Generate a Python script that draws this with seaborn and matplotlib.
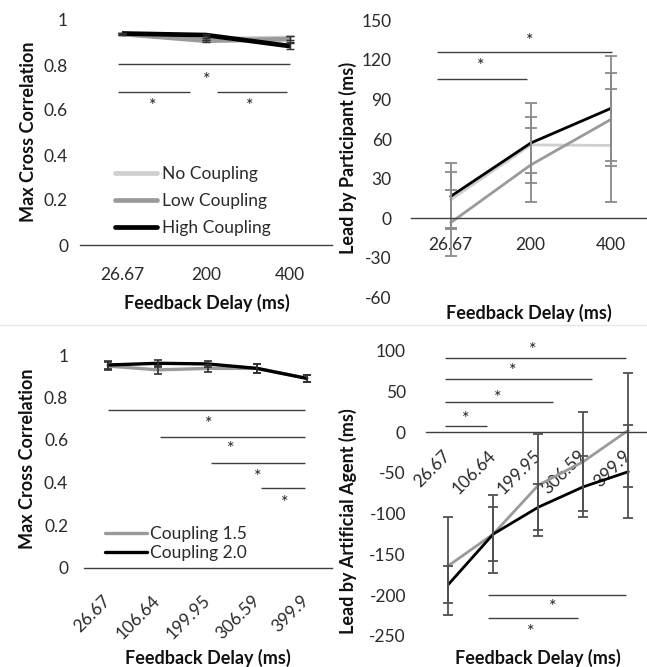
import numpy as np
import pandas as pd
import matplotlib
matplotlib.use("Agg")
import matplotlib.pyplot as plt
import seaborn as sns
from matplotlib.lines import Line2D

# ---------------- data ----------------
delays_top = ["26.67", "200", "400"]
delays_bottom = ["26.67", "106.64", "199.95", "306.59", "399.9"]

top_conditions = ["No Coupling", "Low Coupling", "High Coupling"]
corr_no = [0.938, 0.915, 0.920]
corr_low = [0.938, 0.908, 0.915]
corr_high = [0.940, 0.933, 0.884]
corr_no_err = [0.004, 0.005, 0.010]
corr_low_err = [0.004, 0.005, 0.012]
corr_high_err = [0.004, 0.005, 0.012]

lead_no = [14.0, 55.6, 55.2]
lead_low = [-3.3, 40.4, 74.8]
lead_high = [16.6, 57.0, 83.2]
lead_no_err = [21, 21, 43]
lead_low_err = [25, 27.8, 35.2]
lead_high_err = [25, 30, 39.5]

bottom_conditions = ["Coupling 1.5", "Coupling 2.0"]
corr15 = [0.948, 0.930, 0.937, 0.937, 0.890]
corr20 = [0.953, 0.961, 0.958, 0.937, 0.890]
corr15_err = [0.02, 0.02, 0.015, 0.02, 0.018]
corr20_err = [0.02, 0.017, 0.015, 0.02, 0.018]

agent15 = [-164, -125, -65, -36, 2.5]
agent20 = [-187, -125, -92, -67, -48.4]
agent15_err = [60, 48, 63, 61, 70]
agent20_err = [23, 33, 28.6, 37.6, 57.4]

# significance brackets (category positions) and star positions
tl_sig_x0 = [-0.05, -0.05, 1.13]
tl_sig_x1 = [2.0, 0.81, 1.97]
tl_sig_y = [0.803, 0.679, 0.679]
tl_star_x = [1.01, 0.36, 1.52]
tl_star_y = [0.756, 0.637, 0.637]

tr_sig_x0 = [-0.17, -0.17]
tr_sig_x1 = [2.02, 0.95]
tr_sig_y = [125.8, 105.5]
tr_star_x = [0.99, 0.37]
tr_star_y = [137.6, 118.6]

bl_sig_x0 = [0.0, 1.04, 2.07, 3.08]
bl_sig_x1 = [3.97, 3.97, 3.97, 3.97]
bl_sig_y = [0.741, 0.614, 0.492, 0.374]
bl_star_x = [2.03, 2.47, 3.02, 3.56]
bl_star_y = [0.697, 0.58, 0.446, 0.326]

br_sig_x0 = [-0.07, -0.07, -0.07, -0.07, 0.88, 0.88]
br_sig_x1 = [3.95, 3.19, 2.33, 0.86, 3.95, 2.88]
br_sig_y = [91.3, 65.5, 37.2, 7.7, -199.8, -228]
br_star_x = [1.88, 1.44, 1.10, 0.39, 2.33, 1.84]
br_star_y = [107, 81.5, 48.3, 22.5, -208.5, -239]

# ---------------- style ----------------
sns.set_style("white")
plt.rcParams["font.family"] = ["Lato", "DejaVu Sans"]

LIGHT = "#cfcfcf"
MID = "#9a9a9a"
BLACK = "#000000"
AXC = "#404040"
TICKC = "#2a2a2a"

W, H = 647, 667


def rect(x0, x1, yt, yb):
    return [x0 / W, 1 - yb / H, (x1 - x0) / W, (yb - yt) / H]


fig = plt.figure(figsize=(W / 100, H / 100), dpi=100)
ax_tl = fig.add_axes(rect(80, 332, 20, 245))
ax_tr = fig.add_axes(rect(410.7, 650.7, 20.3, 297.5))
ax_bl = fig.add_axes(rect(83.5, 331.5, 355, 567.5))
ax_br = fig.add_axes(rect(425.8, 650.8, 350.9, 635.8))


def long_df(labels, series, conds):
    rows = []
    for c, vals in zip(conds, series):
        for i, v in enumerate(vals):
            rows.append({"pos": i, "value": v, "cond": c})
    return pd.DataFrame(rows)


def style(ax, n, ylim, yticks, xlabels, xpad, ypad, zero_axis):
    ax.set_facecolor("none")
    ax.set_xlim(-0.5, n - 0.5)
    ax.set_ylim(*ylim)
    for s in ["top", "right", "left"]:
        ax.spines[s].set_visible(False)
    ax.spines["bottom"].set_color(AXC)
    ax.spines["bottom"].set_linewidth(1.0)
    if zero_axis:
        ax.spines["bottom"].set_position(("data", 0))
    ax.set_xticks(range(n))
    ax.set_xticklabels(xlabels)
    ax.set_yticks(yticks)
    ax.set_yticklabels([f"{v:g}" for v in yticks])
    ax.tick_params(axis="x", length=0, pad=xpad, labelsize=12.5, labelcolor=TICKC)
    ax.tick_params(axis="y", length=0, pad=ypad, labelsize=12.5, labelcolor=TICKC)
    ax.grid(False)


def sig(ax, x0, x1, y, sx, sy, color=AXC):
    ax.hlines(y, x0, x1, colors=color, linewidth=1.0, clip_on=False)
    for a, b in zip(sx, sy):
        ax.annotate("*", xy=(a, b), xytext=(0, -7), textcoords="offset points",
                    ha="center", va="baseline", fontsize=13, color="#222222",
                    annotation_clip=False)


def labels(ax, xl, xl_xy, yl, yl_xy):
    ax.set_xlabel(xl, fontsize=13, fontweight="bold", va="center", color="#111111")
    ax.xaxis.set_label_coords(*xl_xy)
    ax.set_ylabel(yl, fontsize=13, fontweight="bold", va="center", color="#111111")
    ax.yaxis.set_label_coords(*yl_xy)


# ---------- top-left: max cross correlation ----------
df = long_df(delays_top, [corr_no, corr_low, corr_high], top_conditions)
sns.lineplot(data=df, x="pos", y="value", hue="cond", hue_order=top_conditions,
             palette=[LIGHT, MID, BLACK], linewidth=3.4, legend=False, ax=ax_tl)
for ln in ax_tl.lines:
    ln.set_solid_capstyle("butt")
handles = [Line2D([], [], color=c, lw=3.4) for c in [LIGHT, MID, BLACK]]
x = np.arange(len(delays_top))
for vals, errs in [(corr_no, corr_no_err), (corr_low, corr_low_err), (corr_high, corr_high_err)]:
    ax_tl.errorbar(x, vals, yerr=errs, fmt="none", ecolor="#303030",
                   elinewidth=1.0, capsize=3, capthick=1.0)
style(ax_tl, 3, (0, 1), [0, 0.2, 0.4, 0.6, 0.8, 1], delays_top, 15.5, 8.6, False)
sig(ax_tl, tl_sig_x0, tl_sig_x1, tl_sig_y, tl_star_x, tl_star_y)
ax_tl.legend(handles, top_conditions, loc="upper left", bbox_to_anchor=(0.139, 0.35),
             frameon=False, fontsize=12.5, handlelength=2.4, handletextpad=0.3,
             labelspacing=0.62, borderpad=0, borderaxespad=0, labelcolor=TICKC)
labels(ax_tl, "Feedback Delay (ms)", (0.503, -0.258), "Max Cross Correlation", (-0.206, 0.504))

# ---------- top-right: lead by participant ----------
df = long_df(delays_top, [lead_no, lead_low, lead_high], top_conditions)
sns.lineplot(data=df, x="pos", y="value", hue="cond", hue_order=top_conditions,
             palette=[LIGHT, MID, BLACK], linewidth=2.0, legend=False, ax=ax_tr)
for vals, errs in [(lead_no, lead_no_err), (lead_low, lead_low_err), (lead_high, lead_high_err)]:
    ax_tr.errorbar(x, vals, yerr=errs, fmt="none", ecolor="#8a8a8a",
                   elinewidth=1.3, capsize=4.3, capthick=1.3)
style(ax_tr, 3, (-60, 150), [-60, -30, 0, 30, 60, 90, 120, 150], delays_top, 13.2, 13.7, True)
sig(ax_tr, tr_sig_x0, tr_sig_x1, tr_sig_y, tr_star_x, tr_star_y)
labels(ax_tr, "Feedback Delay (ms)", (0.493, -0.054), "Lead by Participant (ms)", (-0.261, 0.505))

# ---------- bottom-left: max cross correlation ----------
xb = np.arange(len(delays_bottom))
df = long_df(delays_bottom, [corr15, corr20], bottom_conditions)
sns.lineplot(data=df, x="pos", y="value", hue="cond", hue_order=bottom_conditions,
             palette=[MID, BLACK], linewidth=2.4, legend=False, ax=ax_bl)
handles_b = [Line2D([], [], color=c, lw=2.4) for c in [MID, BLACK]]
for vals, errs in [(corr15, corr15_err), (corr20, corr20_err)]:
    ax_bl.errorbar(xb, vals, yerr=errs, fmt="none", ecolor="#303030",
                   elinewidth=1.2, capsize=3, capthick=1.2)
style(ax_bl, 5, (0, 1), [0, 0.2, 0.4, 0.6, 0.8, 1], delays_bottom, 22, 11, False)
for lbl in ax_bl.get_xticklabels():
    lbl.set_rotation(45)
    lbl.set_ha("right")
    lbl.set_va("center")
    lbl.set_rotation_mode("anchor")
sig(ax_bl, bl_sig_x0, bl_sig_x1, bl_sig_y, bl_star_x, bl_star_y)
ax_bl.legend(handles_b, bottom_conditions, loc="upper left", bbox_to_anchor=(0.087, 0.197),
             frameon=False, fontsize=12.5, handlelength=2.4, handletextpad=0.2,
             labelspacing=0.2, borderpad=0, borderaxespad=0, labelcolor=TICKC)
labels(ax_bl, "Feedback Delay (ms)", (0.503, -0.426), "Max Cross Correlation", (-0.224, 0.514))

# ---------- bottom-right: lead by artificial agent ----------
df = long_df(delays_bottom, [agent15, agent20], bottom_conditions)
sns.lineplot(data=df, x="pos", y="value", hue="cond", hue_order=bottom_conditions,
             palette=[MID, BLACK], linewidth=2.0, legend=False, ax=ax_br)
for vals, errs in [(agent15, agent15_err), (agent20, agent20_err)]:
    ax_br.errorbar(xb, vals, yerr=errs, fmt="none", ecolor="#505050",
                   elinewidth=1.3, capsize=3.6, capthick=1.3)
style(ax_br, 5, (-250, 100), [-250, -200, -150, -100, -50, 0, 50, 100], delays_bottom, 15, 14.3, True)
for lbl in ax_br.get_xticklabels():
    lbl.set_rotation(45)
    lbl.set_ha("right")
    lbl.set_va("center")
    lbl.set_rotation_mode("anchor")
sig(ax_br, br_sig_x0, br_sig_x1, br_sig_y, br_star_x, br_star_y)
labels(ax_br, "Feedback Delay (ms)", (0.5, -0.078), "Lead by Artificial Agent (ms)", (-0.346, 0.404))

# faint separator between the two rows of panels
fig.add_artist(Line2D([0, 1], [1 - 325 / H] * 2, transform=fig.transFigure,
                      color="#e6e6e6", linewidth=1.0))

fig.savefig("out.png", dpi=100)
